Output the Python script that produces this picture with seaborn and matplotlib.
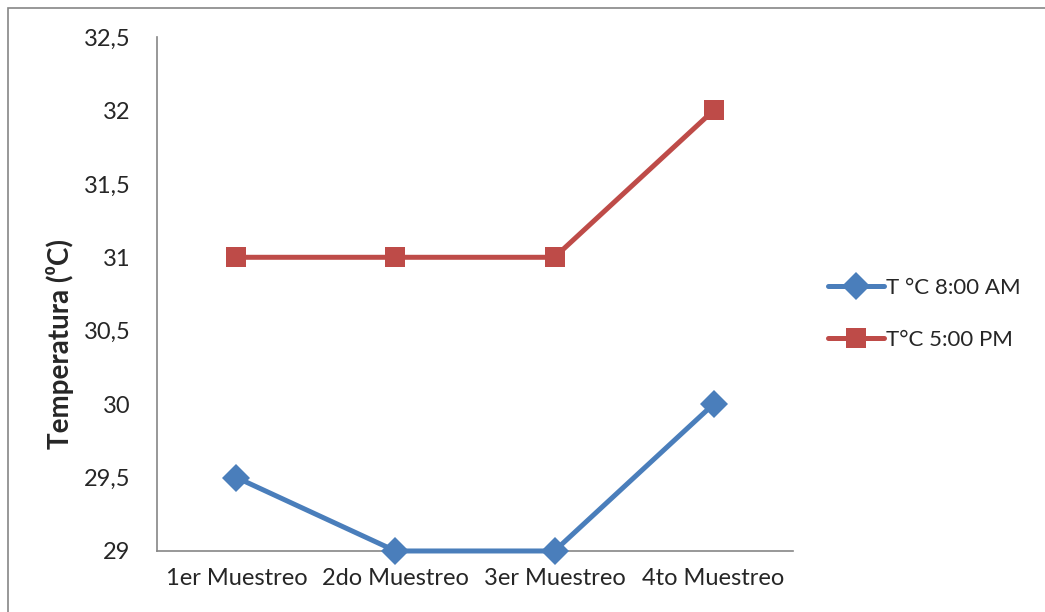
import matplotlib
matplotlib.use("Agg")
import matplotlib.pyplot as plt
import seaborn as sns
import pandas as pd
from matplotlib.patches import Rectangle

categories = ["1er Muestreo", "2do Muestreo", "3er Muestreo", "4to Muestreo"]
temp_am = [29.5, 29.0, 29.0, 30.0]
temp_pm = [31.0, 31.0, 31.0, 32.0]
series_names = ["T °C 8:00 AM", "T°C 5:00 PM"]
y_ticks = [29, 29.5, 30, 30.5, 31, 31.5, 32, 32.5]

df = pd.DataFrame({
    "Muestreo": categories * 2,
    "Temperatura": temp_am + temp_pm,
    "Serie": [series_names[0]] * 4 + [series_names[1]] * 4,
})

sns.set_style("white")
plt.rcParams["font.family"] = ["Lato", "DejaVu Sans"]

fig = plt.figure(figsize=(10.45, 6.12), dpi=100)
ax = fig.add_axes([0.1502, 0.0997, 0.6087, 0.8398])

palette = {series_names[0]: "#4A7EBB", series_names[1]: "#BE4B48"}
markers = {series_names[0]: "D", series_names[1]: "s"}

sns.lineplot(data=df, x="Muestreo", y="Temperatura", hue="Serie",
             style="Serie", markers=markers, dashes=False, palette=palette,
             linewidth=3.6, markersize=14, markeredgewidth=0, ax=ax,
             sort=False)
for line in ax.lines:
    line.set_clip_on(False)

ax.set_xlim(-0.5, 3.5)
ax.set_ylim(29, 32.5)
ax.set_yticks(y_ticks)
ax.set_yticklabels([f"{v:g}".replace(".", ",") for v in y_ticks])
ax.tick_params(axis="both", length=0, labelsize=17)
ax.tick_params(axis="y", pad=19)
ax.tick_params(axis="x", pad=12)
ax.set_xlabel("")
ax.set_ylabel("Temperatura (⁰C)", fontsize=20, fontweight="bold")
ax.yaxis.set_label_coords(-0.131, 0.403)

for side in ["top", "right"]:
    ax.spines[side].set_visible(False)
for side in ["left", "bottom"]:
    ax.spines[side].set_color("#868686")
    ax.spines[side].set_linewidth(1.2)
    ax.spines[side].set_zorder(0)

handles, labels = ax.get_legend_handles_labels()
ax.legend(handles, labels, loc="center left", bbox_to_anchor=(1.055, 0.461),
          frameon=False, fontsize=16, handlelength=2.5, labelspacing=1.45,
          handletextpad=0.1, borderaxespad=0, borderpad=0)

# chart area border
fig.patches.append(Rectangle((8 / 1045, -0.1), 1.2, 1 - 8 / 612 + 0.1,
                             transform=fig.transFigure, fill=False,
                             edgecolor="#868686", linewidth=1.2))

fig.savefig("out.png", dpi=100)
